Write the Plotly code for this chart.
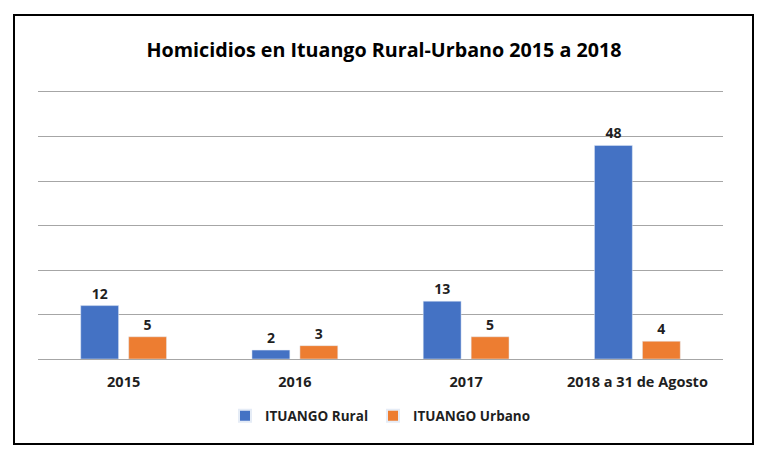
import plotly.graph_objects as go

categories = ["2015", "2016", "2017", "2018 a 31 de Agosto"]
rural = [12, 2, 13, 48]
urbano = [5, 3, 5, 4]

L, R, T, B = 38, 45, 92, 99
W, H = 768, 458
pw, ph = W - L - R, H - T - B

def px(x):
    return (x - L) / pw

def py(y):
    return (H - B - y) / ph

lab_font = dict(family="Open Sans", size=14, color="#1f1f1f")

fig = go.Figure()
fig.add_trace(go.Bar(
    x=categories, y=rural, name="<b>ITUANGO Rural</b>", marker_color="#4472C4",
    text=rural, textposition="outside", cliponaxis=False, textfont=lab_font,
))
fig.add_trace(go.Bar(
    x=categories, y=urbano, name="<b>ITUANGO Urbano</b>", marker_color="#ED7D31",
    text=urbano, textposition="outside", cliponaxis=False, textfont=lab_font,
))

fig.update_layout(
    width=W, height=H,
    margin=dict(l=L, r=R, t=T, b=B),
    paper_bgcolor="white", plot_bgcolor="white",
    font=dict(family="Open Sans", color="#1f1f1f"),
    title=dict(text="<b>Homicidios en Ituango Rural-Urbano 2015 a 2018</b>",
               x=0.5, xanchor="center", y=1 - 50 / H, yanchor="middle",
               font=dict(family="Open Sans", size=19.7, color="#000000")),
    barmode="group", bargap=0.44, bargroupgap=0.21,
    legend=dict(orientation="h", x=0.5, xanchor="center", y=py(416), yanchor="middle",
                font=dict(family="Open Sans", size=13.5, color="#1f1f1f"),
                itemsizing="constant", traceorder="normal", itemwidth=30),
    xaxis=dict(showgrid=False, showline=True, mirror=True, linecolor="#A6A6A6", linewidth=1,
               ticks="outside", ticklen=10, tickcolor="rgba(0,0,0,0)",
               tickfont=dict(family="Open Sans", size=14.5, color="#1f1f1f")),
    yaxis=dict(range=[0, 60], dtick=10, showgrid=True, gridcolor="#A6A6A6", gridwidth=1,
               showticklabels=False, zeroline=True, zerolinecolor="#A6A6A6", zerolinewidth=1),
    shapes=[dict(type="rect", xref="paper", yref="paper",
                 x0=px(14), x1=px(753), y0=py(444), y1=py(15),
                 line=dict(color="black", width=2), fillcolor="rgba(0,0,0,0)")],
)
fig.update_traces(texttemplate="<b>%{text}</b>")
fig.update_xaxes(tickvals=categories, ticktext=["<b>%s</b>" % c for c in categories])

fig.write_html("out.html", config={"displayModeBar": False},
               post_script="document.body.style.margin='0';")
